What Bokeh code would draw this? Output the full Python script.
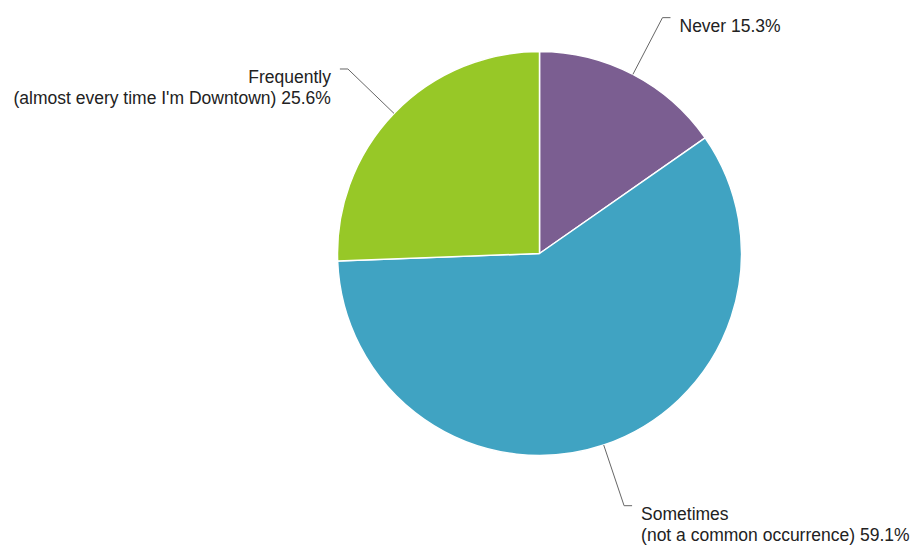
import math
from bokeh.plotting import figure
from bokeh.models import Range1d, ColumnDataSource
from bokeh.core.properties import value
from bokeh.embed import file_html
from bokeh.resources import INLINE

# ---- data ----
categories = ["Never", "Sometimes", "Frequently"]
subtitles = ["", "(not a common occurrence)", "(almost every time I'm Downtown)"]
percents = [15.3, 59.1, 25.6]
colors = ["#7B5E91", "#40A3C2", "#97C827"]

# ---- layout (page pixel space, y up) ----
W, H = 917, 545
cx, cy = 539, H - 253
R = 202
ELBOW_R = 266
HOOK = 8
GAP = 9
LINE_H = 21
BASE_OFF = 8

p = figure(width=W, height=H, x_range=Range1d(0, W), y_range=Range1d(0, H),
           output_backend="svg", toolbar_location=None, min_border=0,
           x_axis_location=None, y_axis_location=None)
p.grid.visible = False
p.outline_line_color = None
p.background_fill_color = "white"
p.border_fill_color = "white"

total = sum(percents)
starts, ends, mids = [], [], []
cum = 0.0
for v in percents:
    a_end = math.pi / 2 - 2 * math.pi * cum / total
    cum += v
    a_start = math.pi / 2 - 2 * math.pi * cum / total
    starts.append(a_start)
    ends.append(a_end)
    mids.append((a_start + a_end) / 2)

src = ColumnDataSource(dict(x=[cx] * 3, y=[cy] * 3, start=starts, end=ends, color=colors))
p.wedge(x="x", y="y", radius=R, start_angle="start", end_angle="end", direction="anticlock",
        fill_color="color", line_color="white", line_width=1.5, source=src)

xs, ys = [], []
tx, ty, tt, talign = [], [], [], []
for cat, sub, v, m in zip(categories, subtitles, percents, mids):
    x0, y0 = cx + R * math.cos(m), cy + R * math.sin(m)
    ex, ey = cx + ELBOW_R * math.cos(m), cy + ELBOW_R * math.sin(m)
    side = 1 if math.cos(m) >= 0 else -1
    hx = ex + side * HOOK
    xs.append([x0, ex, hx])
    ys.append([y0, ey, ey])
    lines = [cat] if not sub else [cat, sub]
    lines[-1] = lines[-1] + " %.1f%%" % v
    for i, t in enumerate(lines):
        tx.append(hx + side * GAP)
        ty.append(ey - BASE_OFF - i * LINE_H)
        tt.append(t)
        talign.append("left" if side > 0 else "right")

p.multi_line(xs=xs, ys=ys, line_color="#666666", line_width=1)
tsrc = ColumnDataSource(dict(x=tx, y=ty, text=tt, align=talign))
p.text(x="x", y="y", text="text", text_align="align", text_baseline="alphabetic",
       text_font=value("Liberation Sans"), text_font_size="17.5px", text_color="#222222",
       source=tsrc)

open("out.html", "w").write(file_html(p, INLINE))
